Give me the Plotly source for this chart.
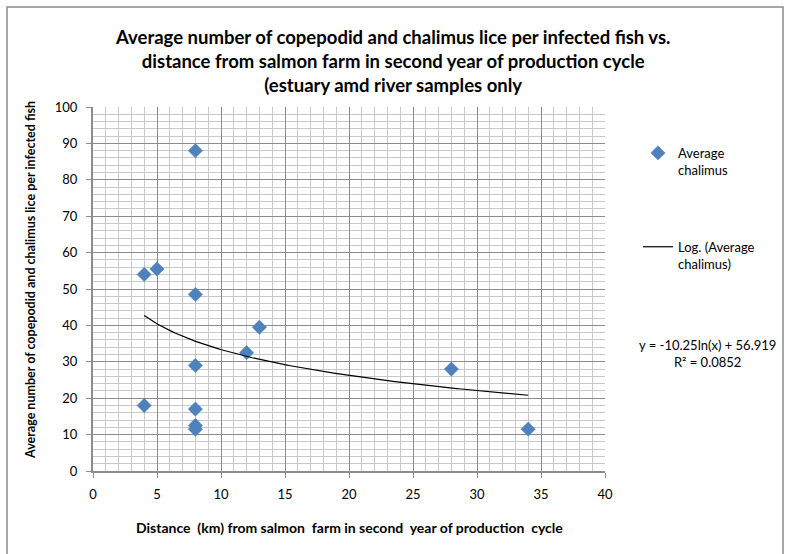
import numpy as np
import plotly.graph_objects as go

# Data
distance_km = [4, 4, 5, 8, 8, 8, 8, 8, 8, 12, 13, 28, 34]
avg_chalimus = [54, 18, 55.5, 88, 48.5, 29, 17, 12.5, 11.5, 32.5, 39.5, 28, 11.5]

title_text = ("<b>Average number of copepodid and chalimus lice per infected fish vs.<br>"
              "distance from salmon farm in second year of production cycle<br>"
              "(estuary amd river samples only</b>")
x_title = "<b>Distance  (km) from salmon  farm in second  year of production  cycle</b>"
y_title = "<b>Average number of copepodid and chalimus lice per infected fish</b>"
eq_text = "y = -10.25ln(x) + 56.919<br>R² = 0.0852"

# Logarithmic trendline fitted to the data (as Excel does)
lx = np.log(np.array(distance_km, dtype=float))
yv = np.array(avg_chalimus, dtype=float)
slope, intercept = np.polyfit(lx, yv, 1)
xs = np.linspace(min(distance_km), max(distance_km), 200)
ys = slope * np.log(xs) + intercept

FONT = "Lato"
W, H = 788, 554
L, R, T, B = 93, 605, 107, 471
pw, ph = R - L, B - T


def px_x(p):
    return (p - L) / pw


def px_y(p):
    return (B - p) / ph


fig = go.Figure()
fig.add_trace(go.Scatter(
    x=distance_km, y=avg_chalimus, mode="markers",
    marker=dict(symbol="diamond", size=11, color="#4F81BD",
                line=dict(width=0.5, color="#4A7EBB")),
    name="Average<br>chalimus", legendgroup="a", cliponaxis=False))
fig.add_trace(go.Scatter(
    x=xs, y=ys, mode="lines", line=dict(color="black", width=1.2),
    name="Log. (Average<br>chalimus)", legendgroup="b"))

fig.update_layout(
    width=W, height=H,
    margin=dict(l=L, r=W - R, t=T, b=H - B),
    paper_bgcolor="white", plot_bgcolor="white",
    font=dict(family=FONT, size=13, color="black"),
    showlegend=True,
    legend=dict(x=px_x(638), y=px_y(138), xanchor="left", yanchor="top",
                font=dict(family=FONT, size=13, color="black"),
                tracegroupgap=57, valign="top", bgcolor="rgba(0,0,0,0)",
                itemwidth=30),
)
fig.update_xaxes(
    range=[0, 40], dtick=5, tick0=0,
    showgrid=True, gridcolor="#8C8C8C", gridwidth=1,
    minor=dict(dtick=1, showgrid=True, gridcolor="#C8C8C8", gridwidth=1,
               ticks=""),
    showline=True, linecolor="#8C8C8C", linewidth=1.5,
    ticks="outside", ticklen=5, tickcolor="#8C8C8C",
    tickfont=dict(family=FONT, size=13), ticklabelstandoff=6,
    zeroline=False,
)
fig.update_yaxes(
    range=[0, 100], dtick=10, tick0=0,
    showgrid=True, gridcolor="#8C8C8C", gridwidth=1,
    minor=dict(dtick=2, showgrid=True, gridcolor="#C8C8C8", gridwidth=1,
               ticks=""),
    showline=True, linecolor="#8C8C8C", linewidth=2,
    ticks="outside", ticklen=5, tickcolor="#8C8C8C",
    tickfont=dict(family=FONT, size=13), ticklabelstandoff=6,
    zeroline=False,
)
# Chart title
fig.add_annotation(
    text=title_text, xref="paper", yref="paper",
    x=px_x(392), y=px_y(61), xanchor="center", yanchor="middle",
    showarrow=False, align="center",
    font=dict(family=FONT, size=18.5, color="black"))
# Axis titles
fig.add_annotation(
    text=x_title, xref="paper", yref="paper",
    x=px_x(349), y=px_y(527), xanchor="center", yanchor="middle",
    showarrow=False, font=dict(family=FONT, size=14, color="black"))
fig.add_annotation(
    text=y_title, xref="paper", yref="paper", textangle=-90,
    x=px_x(30), y=px_y(280), xanchor="center", yanchor="middle",
    showarrow=False, font=dict(family=FONT, size=12.5, color="black"))
# Trendline equation
fig.add_annotation(
    text=eq_text, xref="paper", yref="paper",
    x=px_x(707), y=px_y(353), xanchor="center", yanchor="middle",
    showarrow=False, align="center",
    font=dict(family=FONT, size=13, color="black"))
# Outer chart border
fig.add_shape(type="rect", xref="paper", yref="paper",
              x0=px_x(7), x1=px_x(783), y0=px_y(560), y1=px_y(7),
              line=dict(color="#8C8C8C", width=1.5), fillcolor="rgba(0,0,0,0)",
              layer="below")

fig.write_html("out.html", config={"displayModeBar": False},
               post_script="document.body.style.margin='0';")
